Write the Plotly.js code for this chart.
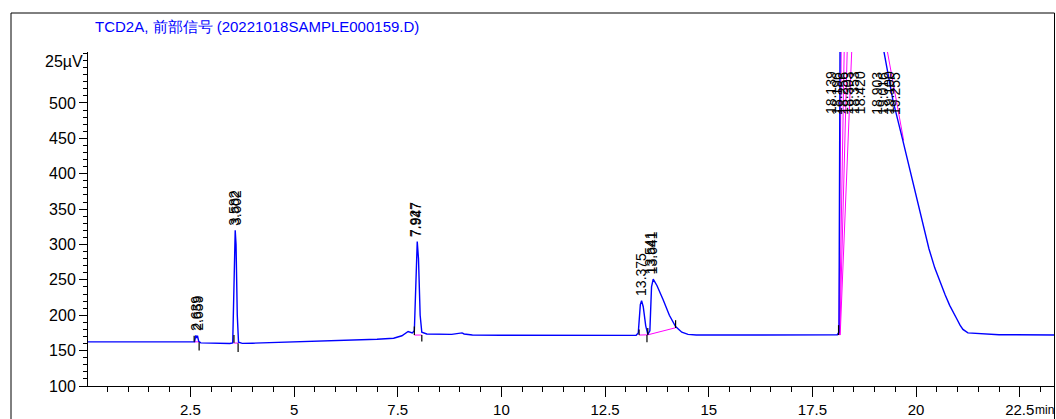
<!DOCTYPE html>
<html><head><meta charset="utf-8">
<script src="https://cdn.plot.ly/plotly-3.0.1.min.js"></script>
<style>html,body{margin:0;padding:0;background:#fff}#c{width:1056px;height:419px}</style>
</head><body><div id="c"></div>
<script>
// Chromatogram signal (time in min, signal in µV units)
const timeMin = [0.03,1.0,2.0,2.55,2.60,2.63,2.65,2.67,2.70,2.75,3.0,3.2,3.45,3.52,3.56,3.58,3.60,3.63,3.66,3.75,4.0,5.0,6.0,7.0,7.4,7.6,7.75,7.85,7.9,7.95,7.97,8.0,8.04,8.08,8.2,8.8,9.0,9.05,9.1,9.3,10,12,13.0,13.25,13.30,13.35,13.38,13.42,13.48,13.53,13.58,13.62,13.66,13.75,13.9,14.05,14.2,14.35,14.5,14.7,16,18.0,18.10,18.14,18.18,18.5,19.0,19.22,19.44,19.68,19.85,20.02,20.17,20.31,20.45,20.57,20.70,20.81,20.90,20.98,21.06,21.13,21.25,21.6,22.0,23.35];
const signal  = [162.3,162.5,162.3,162.2,162.5,171.5,168,171,163,161,160.5,159.8,160,161,250,320,300,200,162,160.3,160.5,162,164,166,167.5,171,177,175,178,295,304,280,200,176,173.5,173,174,175,173.5,172,171.8,171.5,171.5,171.6,175,215,220.5,212,185,173,178,240,251,242,222,200,184,176,173,172,172,172,172.5,176,800,1200,700,574,504,447,405,363,327,294,267,248,229,214,203,195,186,180,175,173.5,172.5,172];

// Integration baselines [t0, v0, t1, v1]
const baselineSegs = [
  [2.59,162.4,2.72,162.4],[3.55,160.8,3.65,160.6],[7.90,172,8.08,172],
  [13.32,172,13.53,172.3],[13.53,172.3,14.20,182.3],
  [18.14,172,18.20,620],[18.15,172,18.28,620],[18.16,172,18.36,620],[18.17,172,18.48,620],
  [19.16,620,19.70,447]
];
// Integration event markers [t, v0, v1]
const eventMarks = [
  [2.59,162.5,171],[2.71,162,150],[3.55,161,172],[3.65,160.5,148],
  [7.90,172,184],[8.08,172,163],[13.32,172,180],[13.53,172,182],[13.51,172,162],[14.20,182,193],
  [18.13,172,186]
];
// Peak retention-time labels
const peakTimes = [2.62,2.66,3.565,3.60,7.93,7.96,13.36,13.57,13.64,
  17.95,18.09,18.23,18.37,18.51,18.65,19.05,19.20,19.35,19.49];
const peakLevels = [172,172,321,321,305,305,222,252,252,
  478,478,478,478,478,478,478,478,478,478];
const peakTexts = ["2.639","2.659","3.582","3.602","7.927","7.947","13.375","13.541","13.641",
  "18.139","18.196","18.256","18.303","18.353","18.420","18.903","19.016","19.100","19.255"];

const xTickVals = [2.5,5,7.5,10,12.5,15,17.5,20,22.5];
const xTickText = ["2.5","5","7.5","10","12.5","15","17.5","20","22.5"];
const yTickVals = [100,150,200,250,300,350,400,450,500];
const yTickText = ["100","150","200","250","300","350","400","450","500"];

const bx=[],by=[];
baselineSegs.forEach(s=>{bx.push(s[0],s[2],null);by.push(s[1],s[3],null);});
const ex=[],ey=[];
eventMarks.forEach(s=>{ex.push(s[0],s[0],null);ey.push(s[1],s[2],null);});

const FONT = "Liberation Sans, Arial, sans-serif";
const annotations = peakTimes.map((t,i)=>({
  x:t, y:peakLevels[i], xref:'x', yref:'y', text:peakTexts[i], showarrow:false,
  textangle:-90, xanchor:'center', yanchor:'bottom', yshift:2,
  font:{family:FONT,size:14,color:'#000'}
}));
annotations.push({xref:'paper',yref:'y',x:0,y:558,xanchor:'right',yanchor:'middle',xshift:-3,
  text:'25µV',showarrow:false,font:{family:FONT,size:16,color:'#000'}});
annotations.push({xref:'paper',yref:'paper',x:1,y:0,xanchor:'right',yanchor:'top',yshift:-15,xshift:1,
  text:'min',showarrow:false,font:{family:FONT,size:12,color:'#000'}});

const traces = [
  {x:bx,y:by,mode:'lines',line:{color:'#ff00ff',width:1},hoverinfo:'skip'},
  {x:timeMin,y:signal,mode:'lines',line:{color:'#0000ff',width:1.4}},
  {x:ex,y:ey,mode:'lines',line:{color:'#000',width:1.2},hoverinfo:'skip'}
];

const layout = {
  width:1056,height:419,margin:{l:88,r:1,t:52,b:33},
  paper_bgcolor:'#fff',plot_bgcolor:'#fff',showlegend:false,
  title:{text:'TCD2A, 前部信号 (20221018SAMPLE000159.D)',xref:'container',yref:'container',
    x:95/1056,xanchor:'left',y:1-27/419,yanchor:'middle',font:{family:FONT,size:15,color:'#0000ff'}},
  xaxis:{range:[0.03,23.35],tickmode:'array',tickvals:xTickVals,ticktext:xTickText,
    showgrid:false,zeroline:false,showline:true,linecolor:'#000',linewidth:1,
    ticks:'outside',ticklen:10,tickcolor:'#000',tickwidth:1,
    minor:{dtick:0.5,ticks:'outside',ticklen:5,tickcolor:'#000',showgrid:false},
    tickfont:{family:FONT,size:15,color:'#000'}},
  yaxis:{range:[100,572],tickmode:'array',tickvals:yTickVals,ticktext:yTickText,
    showgrid:false,zeroline:false,showline:true,linecolor:'#000',linewidth:1,
    ticks:'outside',ticklen:8,tickcolor:'#000',tickwidth:1,
    minor:{dtick:10,ticks:'outside',ticklen:4,tickcolor:'#000',showgrid:false},
    tickfont:{family:FONT,size:16,color:'#000'}},
  annotations:annotations,
  shapes:[{type:'rect',xref:'paper',yref:'paper',x0:(11-88)/967,x1:(1054.5-88)/967,y0:(386-430)/334,y1:(386-13)/334,
    line:{color:'#000',width:1},fillcolor:'rgba(0,0,0,0)',layer:'above'}]
};
Plotly.newPlot('c',traces,layout,{displayModeBar:false,staticPlot:true});
</script></body></html>
